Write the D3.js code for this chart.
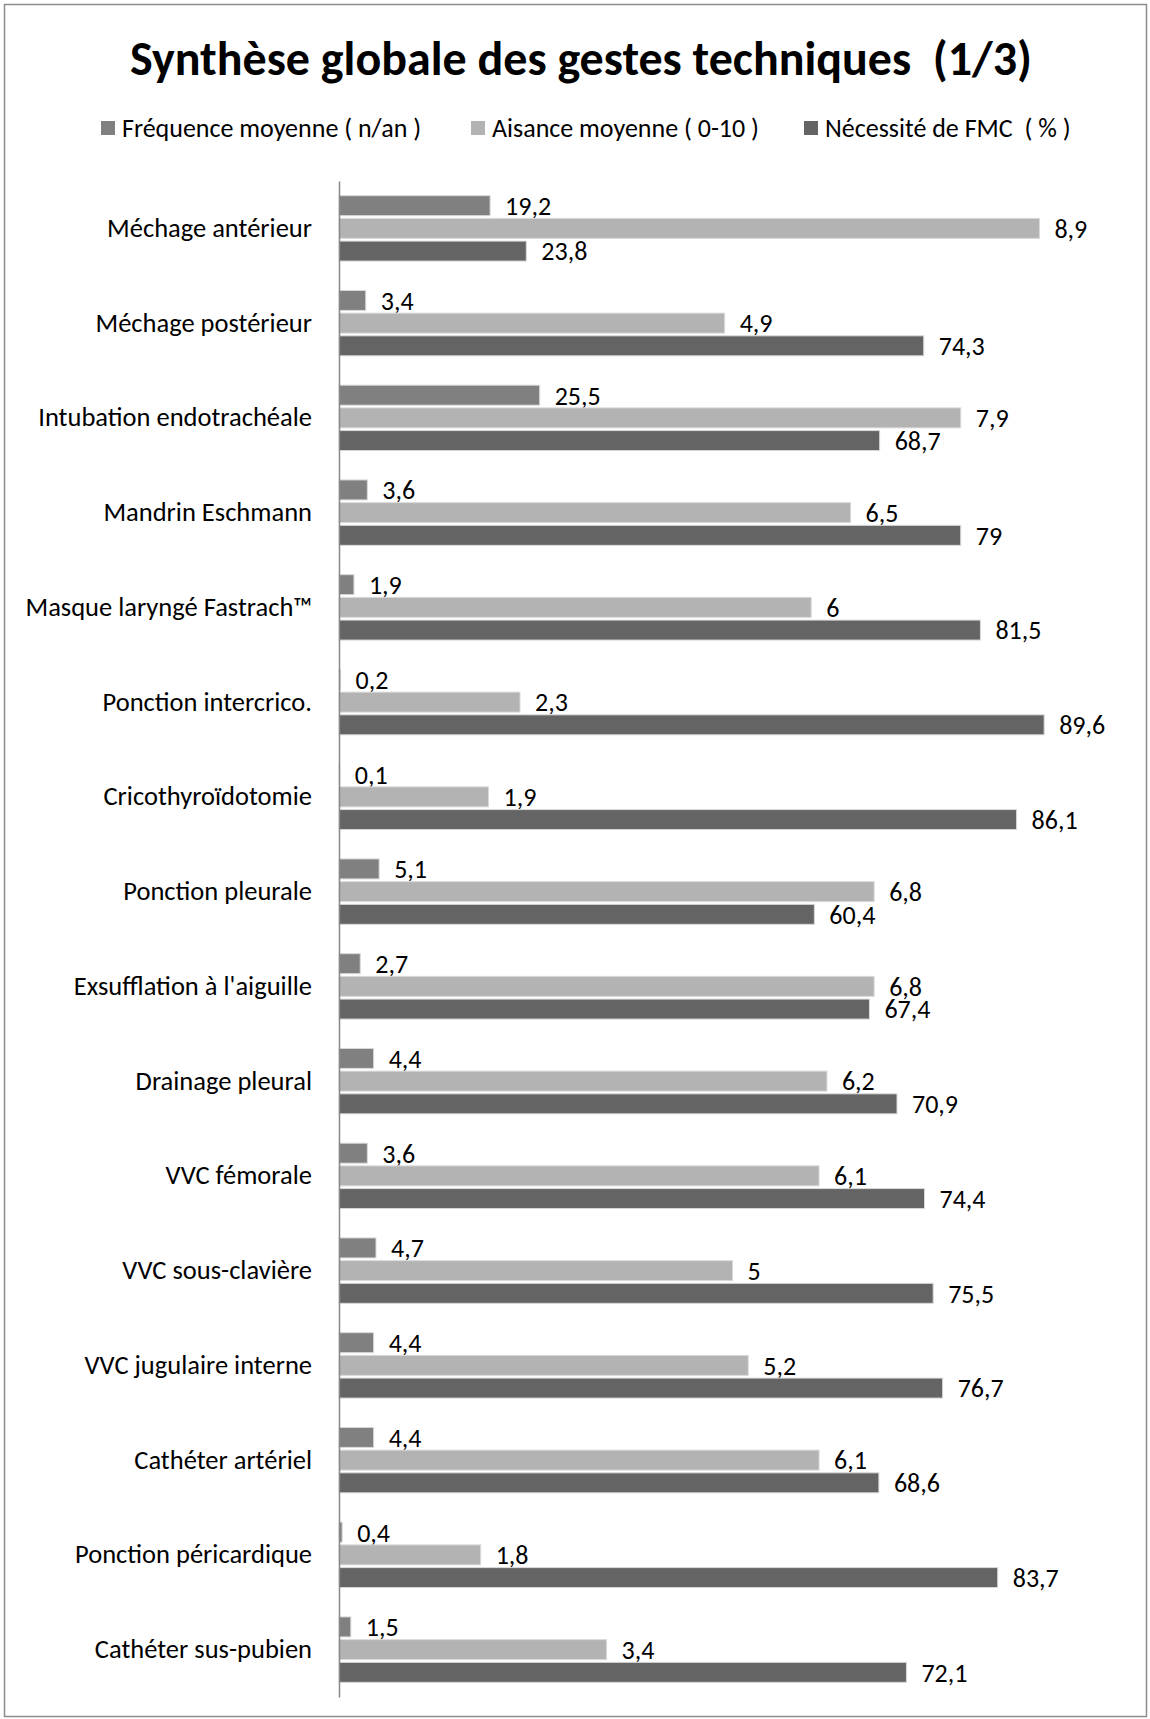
<!DOCTYPE html>
<html lang="fr">
<head>
<meta charset="utf-8">
<script src="https://cdn.jsdelivr.net/npm/d3@7"></script>
<style>
  html, body { margin: 0; padding: 0; background: #fff; }
  svg { display: block; }
  text { font-family: Carlito, Calibri, Lato, "Open Sans", sans-serif; fill: #000; white-space: pre; }
</style>
</head>
<body>
<svg id="chart" width="1150" height="1719"></svg>
<script>
// Gestes techniques (ordre d'affichage, de haut en bas)
const categories = [
  "Méchage antérieur",
  "Méchage postérieur",
  "Intubation endotrachéale",
  "Mandrin Eschmann",
  "Masque laryngé Fastrach™",
  "Ponction intercrico.",
  "Cricothyroïdotomie",
  "Ponction pleurale",
  "Exsufflation à l'aiguille",
  "Drainage pleural",
  "VVC fémorale",
  "VVC sous-clavière",
  "VVC jugulaire interne",
  "Cathéter artériel",
  "Ponction péricardique",
  "Cathéter sus-pubien"
];

// Fréquence moyenne (nombre de gestes par an)
const frequence = [19.2, 3.4, 25.5, 3.6, 1.9, 0.2, 0.1, 5.1, 2.7, 4.4, 3.6, 4.7, 4.4, 4.4, 0.4, 1.5];
// Aisance moyenne (échelle 0-10)
const aisance = [8.9, 4.9, 7.9, 6.5, 6, 2.3, 1.9, 6.8, 6.8, 6.2, 6.1, 5, 5.2, 6.1, 1.8, 3.4];
// Nécessité de formation médicale continue (%)
const necessite = [23.8, 74.3, 68.7, 79, 81.5, 89.6, 86.1, 60.4, 67.4, 70.9, 74.4, 75.5, 76.7, 68.6, 83.7, 72.1];

const seriesNames = ["Fréquence moyenne ( n/an )", "Aisance moyenne ( 0-10 )", "Nécessité de FMC  ( % )"];
const seriesColors = ["#808080", "#b3b3b3", "#646464"];
// L'aisance (0-10) est ramenée à l'échelle commune 0-100 pour la longueur des barres
const seriesFactor = [1, 10, 1];
const seriesValues = [frequence, aisance, necessite];

const W = 1150, H = 1719;
const FONT = "Carlito, Calibri, Lato, 'Open Sans', sans-serif";
const svg = d3.select("#chart");

// Cadre extérieur
svg.append("rect")
  .attr("x", 4.5).attr("y", 4.5)
  .attr("width", W - 8).attr("height", H - 7)
  .attr("fill", "#fff").attr("stroke", "#8c8c8c").attr("stroke-width", 1.5);

// Titre
svg.append("text")
  .attr("x", 581).attr("y", 75)
  .attr("text-anchor", "middle")
  .style("font-weight", "bold")
  .style("font-size", "48px")
  .text("Synthèse globale des gestes techniques  (1/3)");

// Légende
const legendX = [101, 471, 804];
const legend = svg.append("g").attr("class", "legend");
seriesNames.forEach((name, i) => {
  const g = legend.append("g").attr("transform", `translate(${legendX[i]},128)`);
  g.append("rect").attr("x", 0).attr("y", -7).attr("width", 14).attr("height", 14)
    .attr("fill", seriesColors[i]);
  g.append("text").attr("x", 21).attr("y", 0).attr("dy", "0.35em")
    .style("font-size", "26px").text(name);
});

// Échelles
const x = d3.scaleLinear().domain([0, 100]).range([339, 1126]);
const y = d3.scaleBand().domain(categories).range([181, 1697])
  .paddingInner(0.31).paddingOuter(0.155);
const ySub = d3.scaleBand().domain([0, 1, 2]).range([0, y.bandwidth()]).paddingInner(0.12);

// Groupes de barres
const groups = svg.append("g").selectAll("g")
  .data(categories)
  .join("g")
  .attr("transform", d => `translate(0,${y(d)})`);

groups.each(function (cat, ci) {
  const g = d3.select(this);
  seriesValues.forEach((vals, si) => {
    const v = vals[ci];
    const xEnd = x(v * seriesFactor[si]);
    g.append("rect")
      .attr("x", x(0))
      .attr("y", ySub(si))
      .attr("width", Math.max(0, xEnd - x(0)))
      .attr("height", ySub.bandwidth())
      .attr("fill", seriesColors[si])
      .attr("stroke", "#d9d9d9")
      .attr("stroke-width", 1);
    g.append("text")
      .attr("x", xEnd + 15)
      .attr("y", ySub(si) + ySub.bandwidth() / 2)
      .attr("dy", "0.36em")
      .style("font-size", "26px")
      .text(String(v).replace(".", ","));
  });
});

// Axe des catégories
const yAxis = d3.axisLeft(y).tickSize(0).tickPadding(27);
const axisG = svg.append("g")
  .attr("transform", `translate(${x(0)},0)`)
  .call(yAxis);
axisG.select(".domain").attr("stroke", "#888").attr("stroke-width", 1.5);
axisG.selectAll(".tick text")
  .style("font-size", "26.5px")
  .style("font-family", FONT)
  .attr("fill", "#000");
</script>
</body>
</html>
